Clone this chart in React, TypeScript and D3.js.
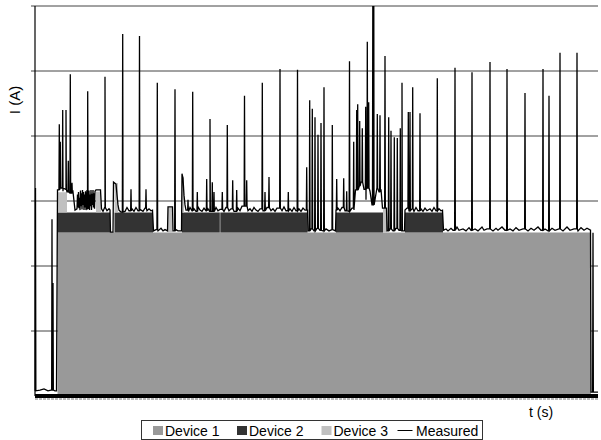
import React, { useEffect, useRef } from "react";
import * as d3 from "d3";

const WIDTH = 601;
const HEIGHT = 440;

// time window and current range (no tick labels on the original)
const T_MAX = 563;
const I_MAX = 6;
const gridLevels = [1, 2, 3, 4, 5, 6];

// devices as steps: [start, end, current]
const device1: [number, number, number][] = [[22.5, 556, 2.515]];
const device2: [number, number, number][] = [
  [22.5, 75, 0.31],
  [79.5, 118, 0.31],
  [147, 184.8, 0.31],
  [185.3, 272.5, 0.31],
  [301, 348, 0.31],
  [370, 408, 0.31],
];
const device3: [number, number, number][] = [
  [22.5, 32, 0.31],
  [61, 66, 0.32],
  [79.5, 83, 0.45],
  [133, 137.5, 0.385],
  [147, 149, 0.55],
  [348, 352, 0.37],
];

// measured current, slow part
const measuredBase: [number, number][] = [
  [0, 0.08], [5, 0.09], [9, 0.11], [13, 0.08], [16, 0.09], [20, 0.08], [21.5, 0.08],
  [22.5, 3.17], [25, 3.2], [28, 3.15], [31, 3.18], [32, 3.14], [35, 3.12], [38, 3.14],
  [40, 2.86], [42, 2.88], [42.5, 3.1], [43, 2.9], [43.5, 3.14], [44, 2.89], [44.5, 3.05],
  [45, 2.86], [45.5, 3.16], [46, 2.92], [46.5, 3.12], [47, 2.87], [47.5, 3.17], [48, 2.94],
  [48.5, 3.14], [49, 2.86], [49.5, 3.1], [50, 2.9], [50.5, 3.15], [51, 2.86], [51.5, 3.02],
  [52, 3.17], [52.5, 2.88], [53, 3.14], [53.5, 2.9], [54, 3.16], [54.5, 2.86], [55, 3.1],
  [55.5, 2.92], [56, 3.17], [56.5, 2.86], [57, 3.11], [57.5, 2.94], [58, 3.17], [58.5, 2.9],
  [59, 3.12], [59.5, 2.88], [60, 3.15], [61, 3.17],
  [65.5, 3.17], [66.5, 2.88], [68, 2.84], [70, 2.9], [72, 2.85], [74, 2.88], [75, 2.86],
  [75.5, 2.52], [78, 2.52], [78.5, 3.29], [81, 3.26], [82, 3.09], [83, 2.94],
  [84, 2.86], [86, 2.83], [88, 2.88], [90, 2.84], [92, 2.9], [94, 2.85], [97, 2.88],
  [99, 2.84], [101, 2.9], [103, 2.85], [105, 2.87], [108, 2.84], [110, 2.89], [112, 2.85],
  [114, 2.88], [116, 2.85], [117.5, 2.86],
  [118.5, 2.54], [121, 2.56], [123, 2.54], [126, 2.58], [128, 2.54], [130, 2.56], [132.5, 2.54],
  [133, 2.91], [137.5, 2.91],
  [138, 2.54], [141, 2.56], [143, 2.54], [146.5, 2.54],
  [147, 3.42], [148, 3.35], [149, 3.09], [150, 2.94],
  [151, 2.86], [153.5, 2.84], [155, 2.9], [157, 2.85], [159, 2.88], [161, 2.84], [163, 2.91],
  [165, 2.86], [167, 2.84], [169, 2.89], [171, 2.85], [173, 2.88], [175, 2.84], [181, 2.9],
  [183, 2.85], [185, 2.87], [189, 2.84], [191, 2.9], [194, 2.85], [196, 2.88], [199, 2.84],
  [203, 2.89], [205, 2.85], [207, 2.92], [213, 2.85], [215, 2.88], [217, 2.84], [219, 2.9],
  [221, 2.86], [223, 2.84], [225, 2.88], [228, 2.85], [232, 2.9], [236, 2.85], [238, 2.88],
  [240, 2.84], [242, 2.89], [247, 2.85], [249, 2.91], [251, 2.85], [255, 2.88], [257, 2.84],
  [259, 2.9], [261, 2.85], [264, 2.88], [266, 2.84], [268, 2.89], [270, 2.86], [272.5, 2.86],
  [273, 2.54], [276, 2.57], [279, 2.54], [282, 2.58], [285, 2.55], [288, 2.54], [291, 2.57],
  [294, 2.54], [297, 2.56], [300.5, 2.54],
  [301, 2.86], [303, 2.89], [305, 2.85], [307, 2.9], [310, 2.85], [312, 2.88], [314, 2.84],
  [317, 2.89], [319, 2.86],
  [320.5, 3.17], [323, 3.23], [326, 3.29], [329, 3.18], [331, 3.02], [332, 3.2], [335, 3.15],
  [337, 2.94], [339, 3.17], [342, 3.2], [344, 3.14], [346, 3.18],
  [347.5, 2.89], [351.5, 2.89],
  [352, 2.54], [355, 2.57], [358, 2.54], [361, 2.58], [364, 2.55], [367, 2.54], [369.5, 2.54],
  [370, 2.86], [372, 2.89], [374, 2.85], [377, 2.88], [379, 2.84], [381, 2.9], [383, 2.85],
  [386, 2.88], [388, 2.84], [390, 2.89], [392, 2.85], [395, 2.88], [397, 2.84], [399, 2.9],
  [401, 2.85], [404, 2.88], [406, 2.85], [407.5, 2.86],
  [408.5, 2.55], [411, 2.57], [413, 2.54], [416, 2.58], [418, 2.55], [422, 2.6], [424, 2.55],
  [428, 2.57], [431, 2.54], [434, 2.59], [436, 2.55], [440, 2.57], [443, 2.54], [447, 2.6],
  [449, 2.55], [452, 2.57], [458, 2.54], [461, 2.58], [463, 2.55], [467, 2.6], [470, 2.55],
  [475, 2.57], [478, 2.54], [481, 2.59], [484, 2.55], [488, 2.57], [493, 2.54], [496, 2.58],
  [499, 2.55], [503, 2.6], [506, 2.55], [510, 2.57], [513, 2.54], [517, 2.58], [520, 2.55],
  [524, 2.57], [528, 2.54], [532, 2.6], [535, 2.55], [539, 2.57], [543, 2.54], [546, 2.59],
  [549, 2.55], [552, 2.58], [555.5, 2.55],
  [556, 0.06], [563, 0.06],
];

// measured current, short peaks: [t, peak]
const measuredSpikes: [number, number][] = [
  [0.5, 3.2], [17, 2.72], [18, 1.74], [24.3, 4.18], [25.3, 3.91], [27.7, 4.4],
  [31, 4.4], [33.3, 3.62], [35.3, 4.95], [37, 3.28], [52.7, 4.69], [70, 4.91],
  [87.7, 5.57], [96, 3.18], [104.5, 5.54], [111, 3.18], [122.3, 4.82], [140, 4.72],
  [153, 3.02], [157.7, 4.68], [162.3, 3.14], [171.7, 3.34], [175, 4.26], [177.3, 3.29],
  [179, 3.14], [187.3, 3.14], [192.3, 4.17], [197.7, 3.32], [201.7, 3.17], [209.5, 4.62],
  [211.7, 3.32], [227.3, 4.82], [230, 3.14], [234, 3.37], [245, 5.03], [253.3, 3.14],
  [262.5, 5.02], [271.7, 3.52], [274.7, 4.55], [277.3, 4.42], [280, 4.29], [283, 4.02],
  [286, 4.2], [289, 4.75], [297.3, 4.17], [301.7, 3.34], [308.7, 3.35], [311.7, 3.15],
  [314.5, 5.15], [318.7, 3.91], [321.7, 4.4], [322.7, 4.49], [324.7, 4.23], [327.3, 4.12],
  [330.7, 4.45], [332.3, 5.45], [333.7, 4.52], [337.8, 6.0], [338.8, 6.0], [342.3, 4.34],
  [345, 4.32], [350, 5.23], [353.7, 4.29], [356, 4.08], [359.3, 3.98], [362.3, 3.97],
  [365.3, 4.12], [367, 4.82], [373.3, 4.37], [375, 4.37], [377.7, 4.75], [385, 4.35],
  [402.3, 4.89], [420, 5.05], [437, 4.98], [455, 5.14], [472, 5.03], [490, 4.66],
  [508, 5.03], [514, 4.62], [525, 5.28], [542, 5.28], [558, 2.51],
];

const legendItems = ["Device 1", "Device 2", "Device 3", "Measured"];
const deviceColors = ["#999999", "#333333", "#c0c0c0"];

const levelAt = (segs: [number, number, number][], t: number) => {
  const s = segs.find((d) => t >= d[0] && t < d[1]);
  return s ? s[2] : 0;
};

const baseAt = (t: number) => {
  let v = measuredBase[0][1];
  for (const p of measuredBase) {
    if (p[0] <= t) v = p[1];
    else break;
  }
  return v;
};

export default function App() {
  const svgRef = useRef<SVGSVGElement>(null);

  useEffect(() => {
    const svg = d3.select(svgRef.current);
    svg.selectAll("*").remove();

    const x = d3.scaleLinear().domain([0, T_MAX]).range([35, 598]);
    const y = d3.scaleLinear().domain([0, I_MAX]).range([396, 6]);

    // grid
    svg
      .append("g")
      .selectAll("line")
      .data(gridLevels)
      .join("line")
      .attr("x1", 31)
      .attr("x2", 598)
      .attr("y1", (d) => y(d))
      .attr("y2", (d) => y(d))
      .attr("stroke", "#444")
      .attr("stroke-width", 1);

    const area = d3
      .area<{ t: number; lo: number; hi: number }>()
      .x((d) => x(d.t))
      .y0((d) => y(d.lo))
      .y1((d) => y(d.hi));

    const stacks = [device1, device2, device3];
    stacks.forEach((segs, i) => {
      segs.forEach((s) => {
        const mid = (s[0] + s[1]) / 2;
        let lo = 0;
        for (let k = 0; k < i; k++) lo += levelAt(stacks[k], mid);
        svg
          .append("path")
          .attr("fill", deviceColors[i])
          .attr(
            "d",
            area([
              { t: s[0], lo, hi: lo + s[2] },
              { t: s[1], lo, hi: lo + s[2] },
            ])
          );
      });
    });

    // measured: slow part with peaks merged in
    const pts: [number, number][] = measuredBase.map((p) => [p[0], p[1]]);
    measuredSpikes.forEach(([t, v]) => {
      const b = baseAt(t);
      pts.push([t - 0.35, b], [t, v], [t + 0.35, b]);
    });
    pts.sort((a, b) => a[0] - b[0]);

    const line = d3
      .line<[number, number]>()
      .x((d) => x(d[0]))
      .y((d) => y(d[1]));

    svg
      .append("path")
      .datum(pts)
      .attr("fill", "none")
      .attr("stroke", "#000")
      .attr("stroke-width", 1.3)
      .attr("d", line);

    // axes
    svg
      .append("line")
      .attr("x1", x(0))
      .attr("x2", x(0))
      .attr("y1", y(I_MAX))
      .attr("y2", y(0))
      .attr("stroke", "#000")
      .attr("stroke-width", 1.2);

    svg
      .append("line")
      .attr("x1", x(0))
      .attr("x2", x(T_MAX))
      .attr("y1", y(0))
      .attr("y2", y(0))
      .attr("stroke", "#000")
      .attr("stroke-width", 4);

    svg
      .append("line")
      .attr("x1", x(0))
      .attr("x2", x(T_MAX))
      .attr("y1", y(0) + 3)
      .attr("y2", y(0) + 3)
      .attr("stroke", "#777")
      .attr("stroke-width", 1)
      .attr("stroke-dasharray", "3,1");

    const font = "'Liberation Sans', Arial, sans-serif";

    svg
      .append("text")
      .attr("transform", "translate(20,100) rotate(-90)")
      .attr("text-anchor", "middle")
      .attr("font-family", font)
      .attr("font-size", 15)
      .text("I (A)");

    svg
      .append("text")
      .attr("x", 529)
      .attr("y", 417)
      .attr("font-family", font)
      .attr("font-size", 14)
      .text("t (s)");

    // legend
    const lg = svg.append("g");
    lg.append("rect")
      .attr("x", 141.5)
      .attr("y", 420.5)
      .attr("width", 341)
      .attr("height", 19)
      .attr("fill", "#fff")
      .attr("stroke", "#333");

    const itemX = [153, 237, 321.5, 397.5];
    legendItems.forEach((name, i) => {
      if (i < 3) {
        lg.append("rect")
          .attr("x", itemX[i])
          .attr("y", 426)
          .attr("width", 10)
          .attr("height", 9)
          .attr("fill", deviceColors[i]);
      } else {
        lg.append("line")
          .attr("x1", itemX[i])
          .attr("x2", itemX[i] + 15)
          .attr("y1", 430.5)
          .attr("y2", 430.5)
          .attr("stroke", "#000")
          .attr("stroke-width", 1);
      }
      lg.append("text")
        .attr("x", itemX[i] + (i < 3 ? 12 : 18.5))
        .attr("y", 435.5)
        .attr("font-family", font)
        .attr("font-size", 14)
        .text(name);
    });
  }, []);

  return (
    <svg
      ref={svgRef}
      width={WIDTH}
      height={HEIGHT}
      style={{ position: "absolute", left: 0, top: 0, background: "#fff" }}
    />
  );
}
